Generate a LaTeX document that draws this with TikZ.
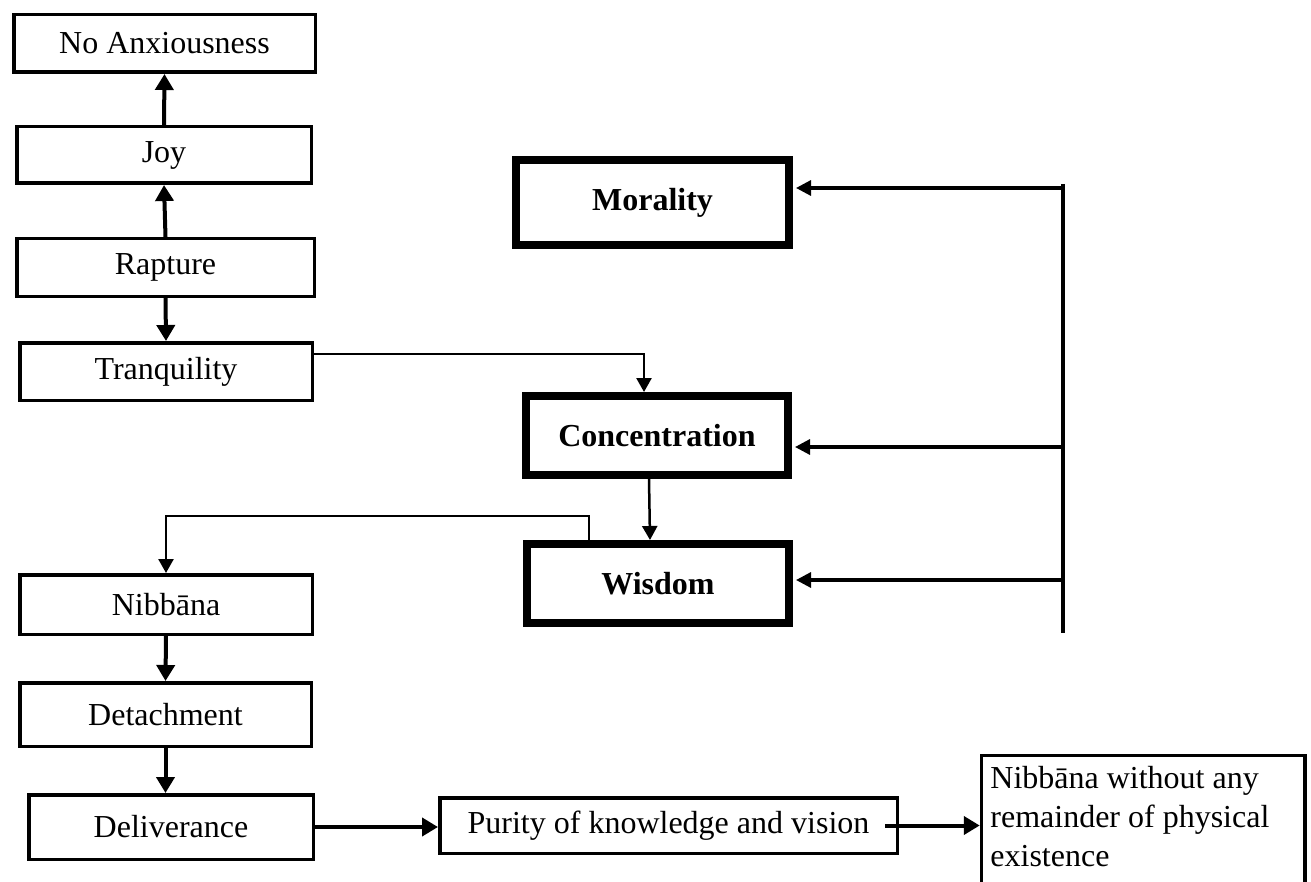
\documentclass[tikz,border=0pt]{standalone}
\usepackage{fontspec}
\setmainfont{Liberation Serif}
\usetikzlibrary{arrows.meta}
\begin{document}
\begin{tikzpicture}[x=0.5pt,y=-0.5pt,
  box/.style={draw, line width=1.75pt, rectangle, inner sep=0pt, font=\fontsize{16pt}{18.4pt}\selectfont},
  bigbox/.style={draw, line width=4pt, rectangle, inner sep=0pt, font=\fontsize{16pt}{18.4pt}\selectfont\bfseries},
  conn/.style={line width=2pt, -{Triangle[length=8pt,width=9pt]}},
  thinconn/.style={line width=1.25pt, -{Triangle[length=7pt,width=7.5pt]}},
  fb/.style={line width=1.6pt, -{Triangle[length=7.5pt,width=7.5pt]}, shorten >=1.5pt}
]
\useasboundingbox (0,0) rectangle (1311,882);
\clip (0,0) rectangle (1311,882);
\fill[white] (0,0) rectangle (1311,882);

% left column, upper
\node[box, minimum width=150.75pt, minimum height=28.75pt] (noanx) at (164.5,43.5) {No Anxiousness};
\node[box, minimum width=147.25pt, minimum height=28.25pt] (joy) at (164,155) {Joy};
\node[box, minimum width=148.75pt, minimum height=28.75pt] (rapture) at (165.5,267.5) {Rapture};
\node[box, minimum width=146.25pt, minimum height=28.75pt] (tranq) at (166,371.5) {Tranquility};

% centre column
\node[bigbox, minimum width=136.5pt, minimum height=42.5pt] (morality) at (652.5,202.5) {Morality};
\node[bigbox, minimum width=131pt, minimum height=39.5pt] (conc) at (657,435.5) {Concentration};
\node[bigbox, minimum width=131pt, minimum height=39.5pt] (wisdom) at (658,583.5) {Wisdom};

% left column, lower
\node[box, minimum width=146.25pt, minimum height=29.75pt] (nibbana) at (166,604.5) {Nibbāna};
\node[box, minimum width=145.75pt, minimum height=31.75pt] (detach) at (165.5,714.5) {Detachment};
\node[box, minimum width=142.25pt, minimum height=32.25pt] (deliv) at (171,827) {Deliverance};

% bottom row
\node[box, minimum width=228.75pt, minimum height=27.75pt] (purity) at (668.5,825.5) {Purity of knowledge and vision};
\node[box, anchor=north west, minimum width=161.75pt, minimum height=150pt] (nibfinal) at (979.75,753.75) {};
\node[anchor=north west, inner sep=0pt, align=left, font=\fontsize{16pt}{19.5pt}\selectfont] (nibtext) at (990,766) {Nibbāna without any\\remainder of physical\\existence};

% connectors, left column
\draw[conn] (joy.north) -- (noanx.south);
\draw[conn] (rapture.north) -- (joy.south);
\draw[conn] (rapture.south) -- (tranq.north);
\draw[thinconn] ([yshift=8.75pt]tranq.east) -| ([xshift=-6.5pt]conc.north);
\draw[thinconn] ([xshift=-4pt]conc.south) -- ([xshift=-4pt]wisdom.north);
\draw[thinconn] ([xshift=-34.5pt]wisdom.north) -- ++(0,-24) -| (nibbana.north);
\draw[conn] (nibbana.south) -- (detach.north);
\draw[conn] (detach.south) -- (detach.south |- deliv.north);

% feedback bar
\coordinate (fbtop) at (1063,184);
\coordinate (fbbot) at (1063,633);
\coordinate (fm) at (1063,188);
\coordinate (fc) at (1063,447);
\coordinate (fw) at (1063,580);
\draw[line width=2pt] (fbtop) -- (fbbot);
\draw[fb] (fm) -- (fm -| morality.east);
\draw[fb] (fc) -- (fc -| conc.east);
\draw[fb] (fw) -- (fw -| wisdom.east);

% bottom row
\draw[conn] (deliv.east) -- (deliv.east -| purity.west);
\draw[conn] ([xshift=-7pt]purity.east) -- (purity.east -| nibfinal.west);
\end{tikzpicture}
\end{document}
